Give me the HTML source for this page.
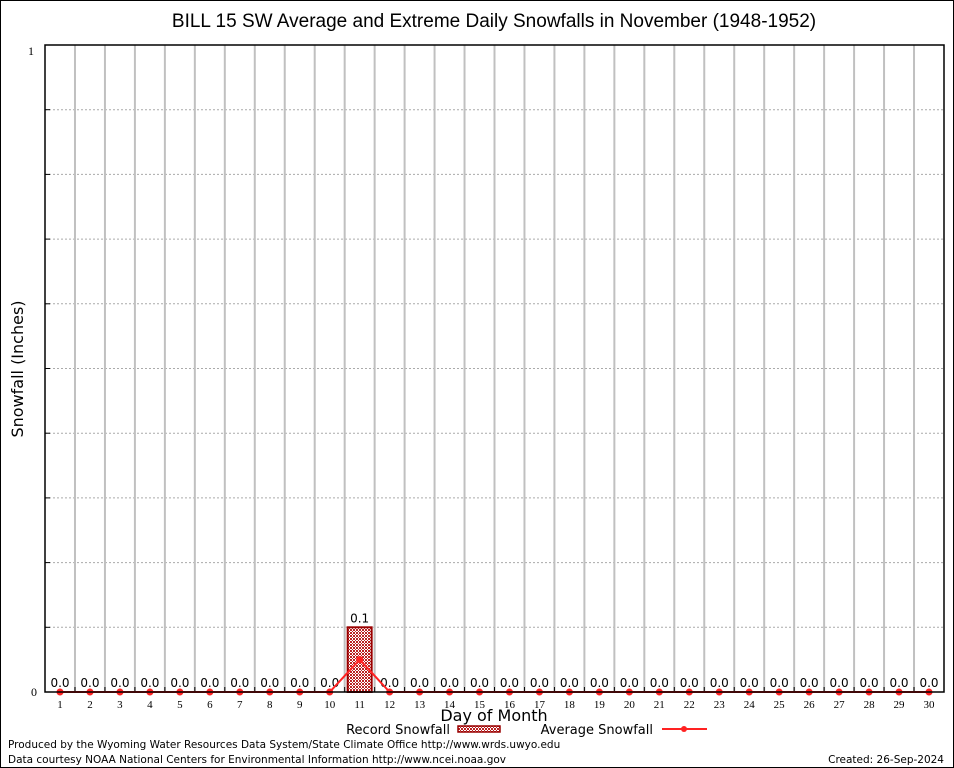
<!DOCTYPE html>
<html><head><meta charset="utf-8"><style>
body{margin:0;background:#fff}
svg{display:block;font-family:"DejaVu Sans","Liberation Sans",sans-serif}
</style></head><body>
<svg id="chart" width="954" height="768" viewBox="0 0 954 768" xmlns="http://www.w3.org/2000/svg">
<defs>
<pattern id="hatch" width="3" height="3" patternUnits="userSpaceOnUse">
<rect width="3" height="3" fill="#fff"/>
<rect width="1" height="1" fill="#b22"/><rect x="2" y="0" width="1" height="1" fill="#b22"/><rect x="1" y="1" width="1" height="1" fill="#b22"/><rect x="0" y="2" width="1" height="1" fill="#b22"/><rect x="2" y="2" width="1" height="1" fill="#b22"/>
</pattern>
</defs>
<rect x="0.5" y="0.5" width="953" height="767" fill="#fff" stroke="#000"/>
<text x="494" y="27" font-size="19" text-anchor="middle" font-family="Liberation Sans, sans-serif">BILL 15 SW Average and Extreme Daily Snowfalls in November (1948-1952)</text>
<g id="grid"></g>
<g id="marks"></g>
<rect x="45" y="45" width="899" height="647" fill="none" stroke="#000" stroke-width="1.5"/>
<text x="34" y="55" font-size="12" text-anchor="end" font-family="Liberation Serif, serif">1</text>
<text x="37" y="696" font-size="12" text-anchor="end" font-family="Liberation Serif, serif">0</text>
<text x="23" y="369" font-size="16" text-anchor="middle" transform="rotate(-90 23 369)">Snowfall (Inches)</text>
<text x="494" y="721" font-size="16" text-anchor="middle">Day of Month</text>
<g>
<text x="450" y="734" font-size="13" text-anchor="end">Record Snowfall</text>
<rect x="458" y="726" width="42" height="6" fill="url(#hatch)" stroke="#900" stroke-width="1.5"/>
<text x="653" y="734" font-size="13" text-anchor="end">Average Snowfall</text>
<line x1="662" y1="729" x2="707" y2="729" stroke="#f22" stroke-width="2"/>
<circle cx="684" cy="729" r="3" fill="#f22"/>
</g>
<text x="8" y="748" font-size="10.5">Produced by the Wyoming Water Resources Data System/State Climate Office http://www.wrds.uwyo.edu</text>
<text x="8" y="763" font-size="10.5">Data courtesy NOAA National Centers for Environmental Information http://www.ncei.noaa.gov</text>
<text x="944" y="763" font-size="10.5" text-anchor="end">Created: 26-Sep-2024</text>
</svg>
<script>
const days = [1,2,3,4,5,6,7,8,9,10,11,12,13,14,15,16,17,18,19,20,21,22,23,24,25,26,27,28,29,30];
const recordSnow = [0,0,0,0,0,0,0,0,0,0,0.1,0,0,0,0,0,0,0,0,0,0,0,0,0,0,0,0,0,0,0];
const avgSnow = [0,0,0,0,0,0,0,0,0,0,0.05,0,0,0,0,0,0,0,0,0,0,0,0,0,0,0,0,0,0,0];
const yTicks = [0,0.1,0.2,0.3,0.4,0.5,0.6,0.7,0.8,0.9,1];
const NS="http://www.w3.org/2000/svg";
const L=45,R=944,T=45,B=692;
function x(d){return 60+(d-1)*(929-60)/29;}
function y(v){return B-(v/1)*(B-T);}
function mk(tag,attrs,parent){const e=document.createElementNS(NS,tag);for(const k in attrs)e.setAttribute(k,attrs[k]);parent.appendChild(e);return e;}
const grid=document.getElementById('grid'),marks=document.getElementById('marks');
yTicks.forEach((t,i)=>{if(t===0||t===1)return;
 const l=mk('line',{x1:L,x2:R,y1:y(t),y2:y(t),stroke:'#aaa','stroke-dasharray':'2,2','stroke-width':1},grid);
 
 
 const tk=mk('line',{x1:L,x2:L+5,y1:y(t),y2:y(t),stroke:'#000'},grid);
 
 
});
for(let k=1;k<days.length;k++){
 const xv=(x(days[k-1])+x(days[k]))/2;
 const l=mk('line',{x1:xv,x2:xv,y1:T,y2:B,stroke:'#c0c0c0','stroke-width':2},grid);
 
 
 const tk=mk('line',{x1:xv,x2:xv,y1:B,y2:B-5,stroke:'#000'},grid);
 
 
}
days.forEach((d,i)=>{
 const t=mk('text',{x:x(d),y:708,'font-size':11,'text-anchor':'middle','font-family':'Liberation Serif, serif'},grid);
 t.textContent=d;
 
 
 const v=recordSnow[i];
 if(v>0){
  const b=mk('rect',{x:x(d)-12,y:y(v),width:24,height:B-y(v),fill:'url(#hatch)',stroke:'#900','stroke-width':2},marks);
  
  
 }
 const lb=mk('text',{x:x(d),y:y(v)-5,'font-size':12,'text-anchor':'middle'},marks);
 lb.textContent=v.toFixed(1);
 
 
});
const pts=days.map((d,i)=>x(d)+','+y(avgSnow[i])).join(' ');
const pl=mk('polyline',{points:pts,fill:'none',stroke:'#f22','stroke-width':2},marks);


days.forEach((d,i)=>{
 const c=mk('circle',{cx:x(d),cy:y(avgSnow[i]),r:3.5,fill:'#f22'},marks);
 
 
});
</script>
</body></html>
